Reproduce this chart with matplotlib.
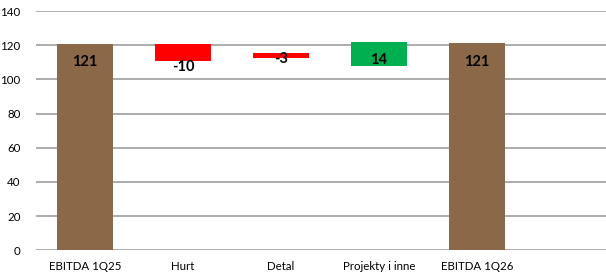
import matplotlib.pyplot as plt

categories = ["EBITDA 1Q25", "Hurt", "Detal", "Projekty i inne", "EBITDA 1Q26"]
bottoms = [0, 111, 112.5, 108, 0]
heights = [121, 10, 3, 14, 121.4]
labels = ["121", "-10", "-3", "14", "121"]
label_y = [110, 107, 112, 111.5, 110]
colors = ["#8B6847", "#FF0000", "#FF0000", "#00B050", "#8B6847"]

plt.rcParams['font.family'] = ['Lato', 'DejaVu Sans']

fig = plt.figure(figsize=(6.06, 2.76), dpi=100)
ax = fig.add_axes([0.0594, 0.093, 0.9406, 0.867])

x = range(len(categories))
ax.bar(x, heights, bottom=bottoms, width=0.57, color=colors, zorder=3)
for i, t in enumerate(labels):
    ax.text(i, label_y[i], t, ha='center', va='center', fontsize=10.5,
            fontweight='bold', color='black', zorder=4)

ax.set_ylim(0, 140)
ax.set_yticks(range(0, 141, 20))
ax.set_xlim(-0.5, 5.32)
ax.set_xticks(list(x))
ax.set_xticklabels(categories)
ax.tick_params(axis='both', length=0, labelsize=8.3, colors='black')
ax.tick_params(axis='y', pad=11)
ax.tick_params(axis='x', pad=8)
ax.yaxis.grid(True, color='#A6A6A6', linewidth=1.3, zorder=0)
for s in ax.spines.values():
    s.set_visible(False)

fig.savefig("out.png", dpi=100)
